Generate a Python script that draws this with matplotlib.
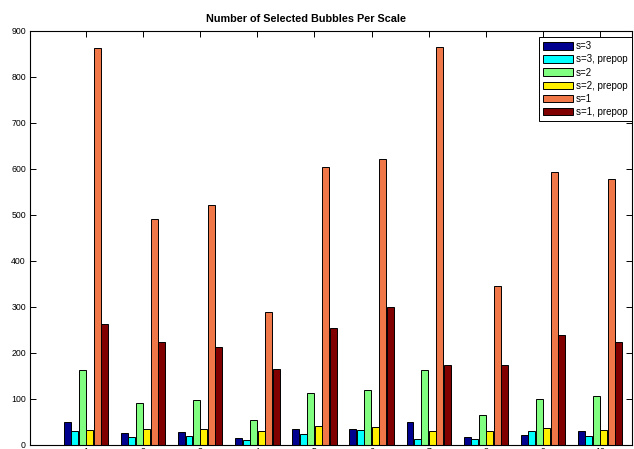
import numpy as np
import matplotlib
matplotlib.use("Agg")
import matplotlib.pyplot as plt

plt.rcParams["font.family"] = ["Liberation Sans", "DejaVu Sans"]

# Selected bubble counts per image, one list per scale / prepop setting
images = [1, 2, 3, 4, 5, 6, 7, 8, 9, 10]
s3        = [50, 26, 28, 14, 34, 34, 50, 17, 22, 30]
s3_prepop = [30, 17, 20, 10, 23, 32, 13, 13, 30, 19]
s2        = [162, 90, 98, 53, 112, 118, 162, 64, 99, 106]
s2_prepop = [32, 34, 34, 30, 41, 38, 30, 30, 36, 33]
s1        = [862, 490, 521, 288, 604, 621, 864, 344, 592, 578]
s1_prepop = [262, 224, 212, 165, 254, 300, 174, 174, 239, 223]

series = [s3, s3_prepop, s2, s2_prepop, s1, s1_prepop]
labels = ["s=3", "s=3, prepop", "s=2", "s=2, prepop", "s=1", "s=1, prepop"]
colors = ["#00008F", "#00FFFF", "#80FF80", "#FFF000", "#F07848", "#800000"]

W, H = 634, 449
fig = plt.figure(figsize=(W / 100, H / 100), dpi=100)
ax = fig.add_axes([30 / W, 4.3 / H, 601.5 / W, 414 / H])

x = np.array(images, dtype=float)
pitch = 0.131
width = 0.122
for i, (vals, lab, col) in enumerate(zip(series, labels, colors)):
    ax.bar(x + (i - 2.5) * pitch, vals, width, color=col, edgecolor="black",
           linewidth=0.7, label=lab, zorder=2)

ax.set_xlim(0.02, 10.55)
ax.set_ylim(0, 900)
ax.set_xticks(images)
ax.set_yticks(np.arange(0, 901, 100))

ax.tick_params(axis="both", direction="in", length=4.5, width=0.7,
               top=True, right=True, labelsize=6.3, zorder=3)
ax.tick_params(axis="x", pad=1.5)
ax.tick_params(axis="y", pad=3)
for sp in ax.spines.values():
    sp.set_linewidth(0.8)
    sp.set_zorder(4)

ax.set_title("Number of Selected Bubbles Per Scale", fontsize=7.8,
             fontweight="bold", x=0.459, pad=6)

leg = ax.legend(loc="upper right", bbox_to_anchor=(1.0, 0.985), borderaxespad=0,
                fontsize=7, handlelength=3.0, handleheight=0.8,
                handletextpad=0.3, labelspacing=0.32, borderpad=0.45,
                fancybox=False, framealpha=1, edgecolor="black")
leg.get_frame().set_linewidth(0.7)

fig.savefig("out.png", dpi=100)
